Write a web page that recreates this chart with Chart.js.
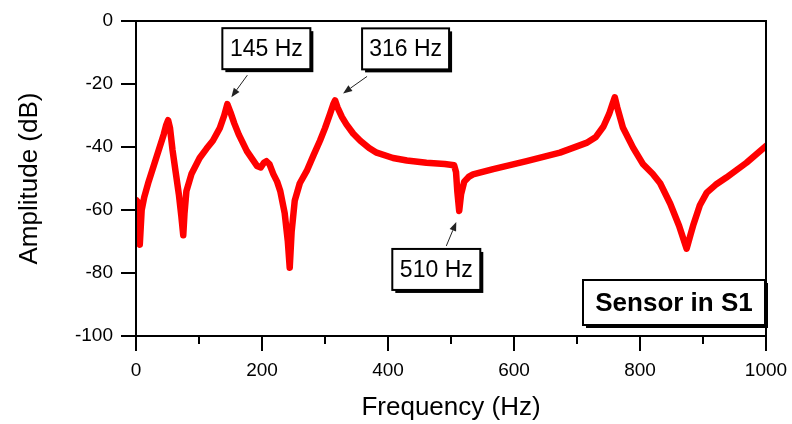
<!DOCTYPE html>
<html>
<head>
<meta charset="utf-8">
<script src="https://cdn.jsdelivr.net/npm/chart.js@4/dist/chart.umd.min.js"></script>
<style>
  html, body { margin: 0; padding: 0; background: #fff; }
  #wrap { width: 792px; height: 424px; }
</style>
</head>
<body>
<div id="wrap"><canvas id="freqChart" width="792" height="424"></canvas></div>
<script>
// Data
const freqHz = [1, 3, 6, 9, 13, 20, 28, 36, 44, 48, 51, 54, 58, 63, 68, 72, 75, 77, 80, 88,
    101, 112, 122, 133, 140, 145, 150, 156, 163, 176, 192, 198, 203, 207, 212, 218, 224, 229,
    236, 241, 244, 247, 252, 260, 271, 282, 292, 300, 308, 313, 316, 320, 327, 334, 345, 356,
    370, 382, 408, 430, 461, 490, 505, 508, 510, 513, 516, 521, 528, 535, 567, 620, 673, 715,
    730, 742, 751, 756, 760, 764, 773, 789, 805, 820, 832, 848, 862, 874, 880, 885, 895, 906, 920,
    937, 969, 1000];
const ampDb = [-57, -57.5, -71, -60, -56, -51, -46, -41, -36, -33, -31.5, -34, -41, -48, -55, -62, -68, -61, -54, -48.6,
    -43.5, -40.5, -38, -34, -30, -26.4, -29, -32.5, -36, -41.3, -46, -46.5, -45, -44.5, -45.5, -48.6, -51, -54,
    -61, -70, -78.3, -67, -57, -51.5, -47.6, -42.5, -38, -34, -29.5, -26.5, -25.2, -27.5, -30.5, -32.8, -35.8, -38,
    -40.3, -41.8, -43.5, -44.3, -45, -45.4, -45.8, -48, -54, -60.3, -55, -51, -49.5, -48.7, -47, -44.5, -41.8, -38.7,
    -36.8, -33.5, -29.5, -26.5, -24.2, -27.5, -33.9, -40.2, -45.5, -48.5, -51.5, -58, -65, -72.3, -68, -64.5, -58.5, -54.5, -52,
    -49.7, -45, -39.7];

const xMajorTicks = [0, 200, 400, 600, 800, 1000];
const xMinorTicks = [100, 300, 500, 700, 900];
const yTicks = [0, -20, -40, -60, -80, -100];

const peakLabels = ['145 Hz', '316 Hz', '510 Hz'];
const peakFreq = [145, 316, 510];
const peakDb = [-26.4, -25.2, -60.3];
const boxText = 'Sensor in S1';

// where each callout box sits, relative to the point it marks (px)
const calloutLayout = [
    { dx: -5, dy: -76, w: 88, h: 41, ax: 20, ay: -29, tx: 4, ty: -7 },
    { dx: 27, dy: -72, w: 87, h: 41, ax: 32, ay: -24, tx: 8, ty: -7 },
    { dx: -65, dy: 38, w: 88, h: 41, ax: -11, ay: 35, tx: -1, ty: 11 }
];

const FONT = "'Liberation Sans', Arial, sans-serif";

function drawArrow(ctx, x0, y0, x1, y1) {
    const ang = Math.atan2(y1 - y0, x1 - x0);
    const len = 9, half = 3.5;
    const c = Math.cos(ang), s = Math.sin(ang);
    ctx.beginPath();
    ctx.moveTo(x0, y0);
    ctx.lineTo(x1 - len * c, y1 - len * s);
    ctx.stroke();
    ctx.beginPath();
    ctx.moveTo(x1, y1);
    ctx.lineTo(x1 - len * c + half * s, y1 - len * s - half * c);
    ctx.lineTo(x1 - len * c - half * s, y1 - len * s + half * c);
    ctx.closePath();
    ctx.fill();
}

function drawBox(ctx, x, y, w, h, text, font) {
    ctx.fillStyle = '#000';
    ctx.fillRect(x + 3, y + 3, w, h);
    ctx.fillStyle = '#fff';
    ctx.fillRect(x, y, w, h);
    ctx.strokeStyle = '#000';
    ctx.lineWidth = 2;
    ctx.strokeRect(x, y, w, h);
    ctx.fillStyle = '#000';
    ctx.font = font;
    ctx.textAlign = 'center';
    ctx.textBaseline = 'middle';
    ctx.fillText(text, x + w / 2, y + h / 2 + 1);
}

const framePlugin = {
    id: 'frame',
    afterDatasetsDraw(chart) {
        const { ctx, chartArea: a, scales: { x, y } } = chart;
        ctx.save();
        ctx.strokeStyle = '#000';
        ctx.lineWidth = 2;
        ctx.strokeRect(a.left, a.top, a.right - a.left, a.bottom - a.top);
        ctx.beginPath();
        yTicks.forEach(v => {
            const py = y.getPixelForValue(v);
            ctx.moveTo(a.left - 15, py);
            ctx.lineTo(a.left, py);
        });
        xMajorTicks.forEach(v => {
            const px = x.getPixelForValue(v);
            ctx.moveTo(px, a.bottom);
            ctx.lineTo(px, a.bottom + 15);
        });
        xMinorTicks.forEach(v => {
            const px = x.getPixelForValue(v);
            ctx.moveTo(px, a.bottom);
            ctx.lineTo(px, a.bottom + 8);
        });
        ctx.stroke();

        // callouts
        peakLabels.forEach((label, i) => {
            const L = calloutLayout[i];
            const px = x.getPixelForValue(peakFreq[i]);
            const py = y.getPixelForValue(peakDb[i]);
            ctx.strokeStyle = '#222';
            ctx.fillStyle = '#222';
            ctx.lineWidth = 1;
            drawArrow(ctx, px + L.ax, py + L.ay, px + L.tx, py + L.ty);
            drawBox(ctx, px + L.dx, py + L.dy, L.w, L.h, label, '23px ' + FONT);
        });

        drawBox(ctx, a.right - 183, a.bottom - 56, 182, 45, boxText, 'bold 26px ' + FONT);
        ctx.restore();
    }
};

new Chart(document.getElementById('freqChart'), {
    type: 'line',
    data: {
        datasets: [{
            data: freqHz.map((f, i) => ({ x: f, y: ampDb[i] })),
            borderColor: '#ff0000',
            borderWidth: 6.5,
            borderJoinStyle: 'round',
            borderCapStyle: 'round',
            pointRadius: 0,
            tension: 0,
            fill: false
        }]
    },
    options: {
        responsive: false,
        devicePixelRatio: 1,
        animation: false,
        layout: { padding: { top: 21, right: 26, bottom: 0, left: 0 } },
        plugins: { legend: { display: false }, tooltip: { enabled: false } },
        scales: {
            x: {
                type: 'linear',
                min: 0,
                max: 1000,
                grid: { display: false, drawTicks: true, tickLength: 15 },
                border: { display: false },
                ticks: {
                    stepSize: 200,
                    autoSkip: false,
                    maxRotation: 0,
                    padding: 8,
                    color: '#000',
                    font: { family: FONT, size: 19 },
                    callback: v => String(v)
                },
                title: {
                    display: true,
                    text: 'Frequency (Hz)',
                    color: '#000',
                    font: { family: FONT, size: 26 },
                    padding: { top: 0, bottom: 1 }
                },
                afterFit: s => { s.height = 88; s.paddingLeft = 0; s.paddingRight = 0; }
            },
            y: {
                min: -100,
                max: 0,
                grid: { display: false, drawTicks: true, tickLength: 15 },
                border: { display: false },
                ticks: {
                    stepSize: 20,
                    autoSkip: false,
                    padding: 8,
                    color: '#000',
                    font: { family: FONT, size: 19 },
                    callback: v => String(v)
                },
                title: {
                    display: true,
                    text: 'Amplitude (dB)',
                    color: '#000',
                    font: { family: FONT, size: 26 },
                    padding: { top: 14, bottom: 0 }
                },
                afterFit: s => { s.width = 136; s.paddingTop = 0; s.paddingBottom = 0; }
            }
        }
    },
    plugins: [framePlugin]
});
</script>
</body>
</html>
